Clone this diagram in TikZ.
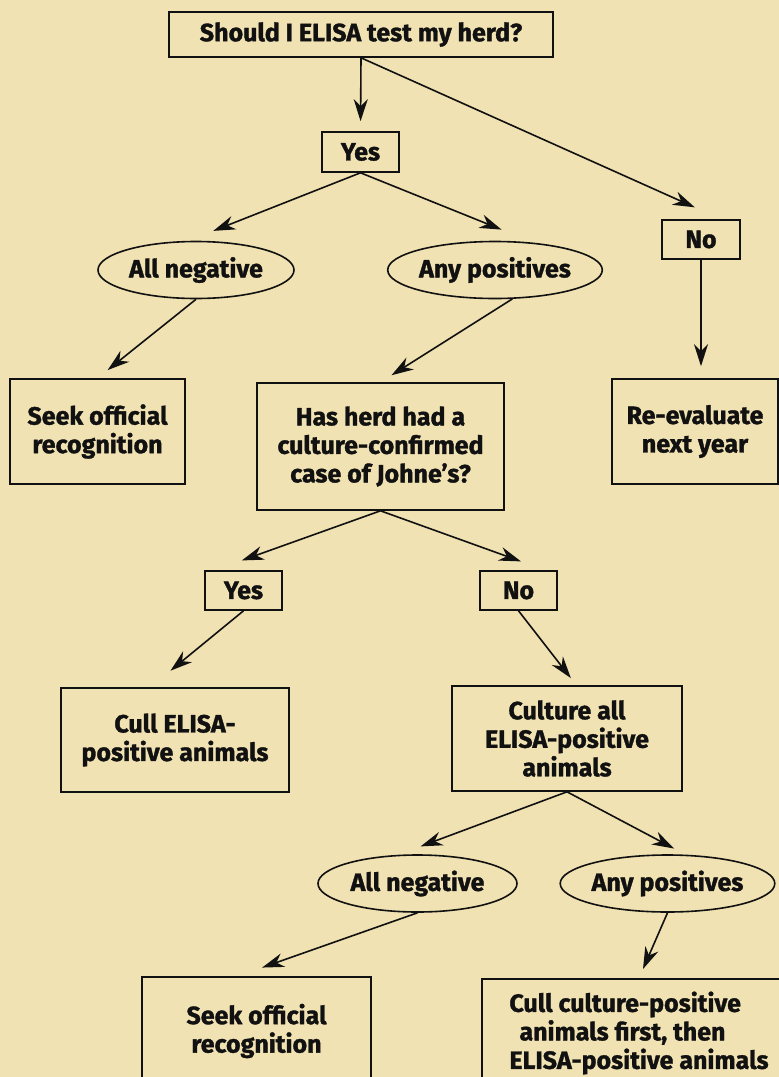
\documentclass[tikz,border=0pt]{standalone}
\usepackage{fontspec}
\usepackage{tikz}
\usetikzlibrary{arrows.meta, shapes.geometric, calc}
\newfontfamily\chartfont{Fira Sans}[BoldFeatures={FakeBold=1.3}]
\definecolor{jdtan}{HTML}{F0E2B2}
\definecolor{jdink}{HTML}{111111}

\begin{document}
\begin{tikzpicture}[
  x=1pt, y=-1pt,
  every node/.style={font=\chartfont\bfseries\fontsize{25}{28.5}\selectfont, text=jdink},
  flowbox/.style={rectangle, draw=jdink, line width=1.6pt, inner sep=0pt, align=center, minimum width=#1},
  choiceoval/.style={ellipse, draw=jdink, line width=1.6pt, inner sep=0pt, minimum height=57pt, minimum width=#1},
  flowarrow/.style={draw=jdink, line width=1.6pt, -{Stealth[length=22pt, width=14pt, inset=7pt]}, shorten >=#1},
]
\useasboundingbox (0,0) rectangle (779,1077);
\clip (0,0) rectangle (779,1077);
\fill[jdtan] (0,0) rectangle (779,1077);

\node[flowbox=384pt, minimum height=45pt] (test) at (361, 34.5) {Should I ELISA test my herd?};

\node[flowbox=77pt, minimum height=40pt] (yes1) at (360.5, 152) {Yes};
\node[flowbox=78pt, minimum height=39pt] (no1) at (701, 239.5) {No};

\node[choiceoval=196pt] (allneg1) at (196, 270) {All negative};
\node[choiceoval=178pt] (anypos1) at (495, 270) {Any positives};

\node[flowbox=175pt, minimum height=105pt] (seek1) at (97.5, 431.5) {Seek official\\recognition};
\node[flowbox=247pt, minimum height=127pt] (herd) at (380.5, 446.5) {Has herd had a\\culture-confirmed\\case of Johne’s?};
\node[flowbox=166pt, minimum height=105pt] (reeval) at (695, 431.5) {Re-evaluate\\next year};

\node[flowbox=77pt, minimum height=39pt] (yes2) at (243.5, 590.5) {Yes};
\node[flowbox=77pt, minimum height=39pt] (no2) at (518.5, 590.5) {No};

\node[flowbox=228pt, minimum height=104pt] (cullelisa) at (175, 740) {Cull ELISA-\\positive animals};
\node[flowbox=230pt, minimum height=105pt] (culture) at (567, 738.5) {Culture all\\ELISA-positive\\animals};

\node[choiceoval=199pt] (allneg2) at (417.5, 883.5) {All negative};
\node[choiceoval=207pt] (anypos2) at (667.5, 883.5) {Any positives};

\node[flowbox=229pt, minimum height=108pt] (seek2) at (256.5, 1031) {Seek official\\recognition};
\node[flowbox=314pt, minimum height=108pt, align=left] (cullculture) at (639, 1033) {Cull culture-positive\\\hspace*{10pt}animals first, then\\ELISA-positive animals};

% arrows
\draw[flowarrow=10pt] (test.south) -- (yes1.north);
\draw[flowarrow=29pt] (test.south) -- (no1.45);
\draw[flowarrow=12pt] (no1.south) -- (no1.south |- reeval.north);
\draw[flowarrow=27pt] (yes1.south) -- (allneg1.105);
\draw[flowarrow=35pt] (yes1.south) -- (anypos1.35);
\draw[flowarrow=13pt] (allneg1.south) -- (seek1.north);
\draw[flowarrow=13pt] (anypos1.-59) -- (herd.north);
\draw[flowarrow=29pt] (herd.south) -- (yes2.145);
\draw[flowarrow=26pt] (herd.south) -- (no2.37);
\draw[flowarrow=26pt] (yes2.south) -- (cullelisa.115);
\draw[flowarrow=9pt] (no2.south) -- (culture.80);
\draw[flowarrow=24pt] (culture.south) -- (allneg2.124);
\draw[flowarrow=13pt] (culture.south) -- (anypos2.58);
\draw[flowarrow=26pt] (allneg2.south) -- (seek2.109);
\draw[flowarrow=10pt] (anypos2.south) -- (cullculture.north);

\end{tikzpicture}
\end{document}
